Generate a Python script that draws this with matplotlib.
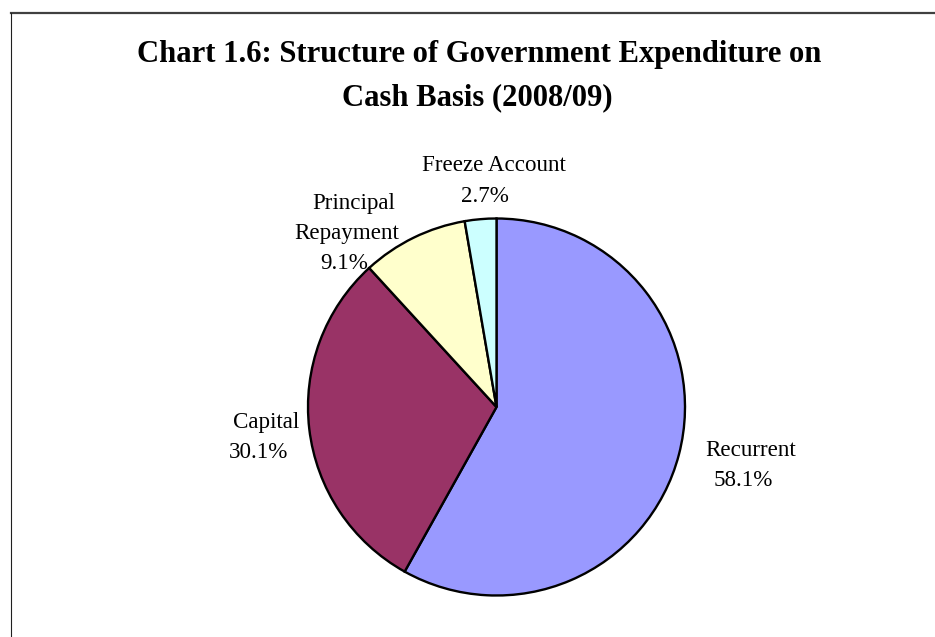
import matplotlib
matplotlib.use("Agg")
import matplotlib.pyplot as plt
from matplotlib.lines import Line2D

categories = ["Recurrent", "Capital", "Principal Repayment", "Freeze Account"]
values = [58.1, 30.1, 9.1, 2.7]
colors = ["#9999FF", "#993366", "#FFFFCC", "#CCFFFF"]
title_lines = ["Chart 1.6: Structure of Government Expenditure on", "Cash Basis (2008/09)"]

W, H = 935, 637
fig = plt.figure(figsize=(W / 100, H / 100), dpi=100)
plt.rcParams['font.family'] = ['Liberation Serif', 'DejaVu Serif']

def fx(x):
    return x / W

def fy(y):
    return 1 - y / H

# border lines (top and left)
fig.add_artist(Line2D([fx(10.5), 1], [fy(13), fy(13)], color="#404040", lw=1.6, transform=fig.transFigure))
fig.add_artist(Line2D([fx(10.5), fx(10.5)], [fy(13), 0], color="#202020", lw=0.8, transform=fig.transFigure))

# title
fig.text(fx(479.5), fy(62), title_lines[0], ha="center", va="baseline", fontsize=22.1, fontweight="bold")
fig.text(fx(477), fy(105), title_lines[1], ha="center", va="baseline", fontsize=22.1, fontweight="bold")

# pie
cx, cy, r = 496.5, 407, 188.5
ax = fig.add_axes([fx(cx - r), fy(cy + r), 2 * r / W, 2 * r / H])
ax.pie(values, colors=colors, startangle=90, counterclock=False, radius=1,
       wedgeprops=dict(edgecolor="black", linewidth=1.7))
ax.set_xlim(-1, 1)
ax.set_ylim(-1, 1)
ax.axis("off")

fs = 16.6
def label(x, y, s):
    fig.text(fx(x), fy(y), s, ha="center", va="baseline", fontsize=fs)

label(494, 171.5, "Freeze Account")
label(485, 201.5, f"{values[3]:.1f}%")
label(353.5, 209, "Principal")
label(347, 239, "Repayment")
label(344, 269, f"{values[2]:.1f}%")
label(266, 428, categories[1])
label(258, 458, f"{values[1]:.1f}%")
label(751, 456, categories[0])
label(743, 486, f"{values[0]:.1f}%")

fig.savefig("out.png", dpi=100)
